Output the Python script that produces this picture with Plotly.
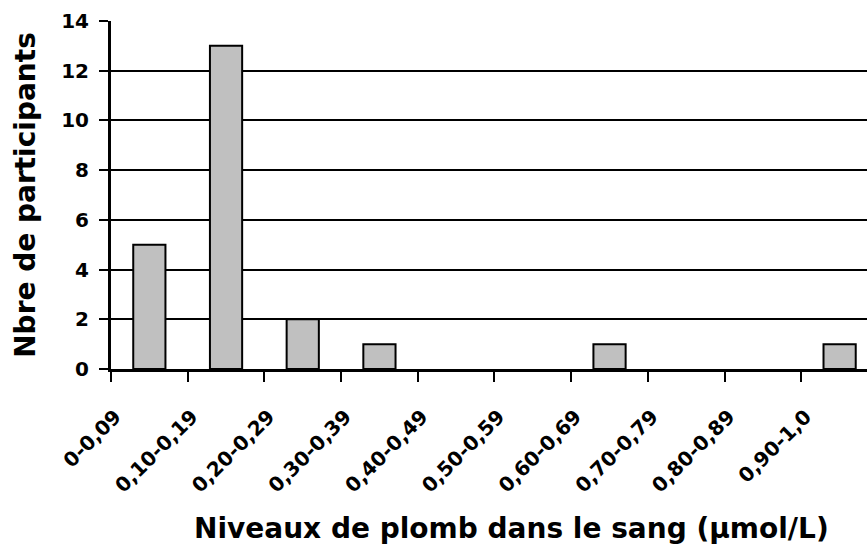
import plotly.graph_objects as go

categories = ["0-0,09", "0,10-0,19", "0,20-0,29", "0,30-0,39", "0,40-0,49",
              "0,50-0,59", "0,60-0,69", "0,70-0,79", "0,80-0,89", "0,90-1,0"]
participants = [5, 13, 2, 1, 0, 0, 1, 0, 0, 1]
y_ticks = [0, 2, 4, 6, 8, 10, 12, 14]
x_title = "Niveaux de plomb dans le sang (µmol/L)"
y_title = "Nbre de participants"

FONT = "DejaVu Sans"

# zero-count classes draw no bar
bar_values = [v if v > 0 else None for v in participants]

fig = go.Figure(go.Bar(
    x=categories, y=bar_values,
    marker=dict(color="#c0c0c0", line=dict(color="black", width=2)),
    width=0.42,
))

fig.update_layout(
    width=867, height=546,
    margin=dict(l=111, r=0, t=21, b=177, autoexpand=False),
    plot_bgcolor="white", paper_bgcolor="white",
    showlegend=False,
    font=dict(family=FONT, color="black", size=18, weight="bold"),
    annotations=[
        dict(text=x_title, xref="paper", yref="paper", x=0.53, y=-0.457,
             xanchor="center", yanchor="middle", showarrow=False,
             font=dict(family=FONT, size=28, weight="bold")),
        dict(text=y_title, xref="paper", yref="paper", x=-0.114, y=0.5,
             xanchor="center", yanchor="middle", showarrow=False, textangle=-90,
             font=dict(family=FONT, size=28, weight="bold")),
    ],
)
fig.update_xaxes(
    type="category", range=[-0.5, 9.357], automargin=False,
    tickson="boundaries", ticks="outside", ticklen=10, tickwidth=2, tickcolor="black",
    tickangle=-45, tickfont=dict(family=FONT, size=20, weight="bold"),
    ticklabelshift=-34, ticklabelstandoff=25,
    showline=True, linecolor="black", linewidth=3,
    showgrid=False,
)
fig.update_yaxes(
    range=[0, 14], tickvals=y_ticks, automargin=False,
    ticks="outside", ticklen=9, tickwidth=2, tickcolor="black",
    tickfont=dict(family=FONT, size=20, weight="bold"),
    ticklabelstandoff=6,
    showline=True, linecolor="black", linewidth=3,
    showgrid=True, gridcolor="black", gridwidth=2,
    zeroline=False,
)

fig.write_html("out.html", post_script="document.body.style.margin='0';",
               config={"displayModeBar": False})
